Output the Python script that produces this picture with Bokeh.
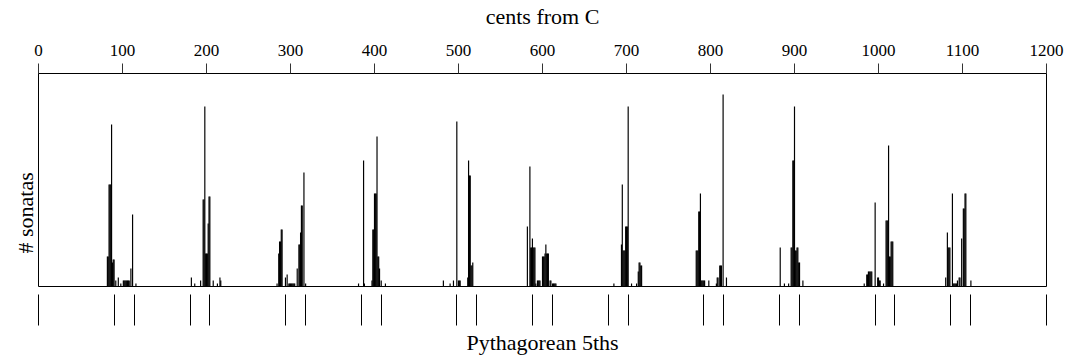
from bokeh.plotting import figure
from bokeh.models import ColumnDataSource, FixedTicker, LinearAxis, Range1d, Title
from bokeh.embed import file_html
from bokeh.resources import INLINE

# ---- data ----
# histogram bins (cents from C) and number of sonatas in each bin
cents = [
    82, 83, 84, 85, 86, 87, 88, 89, 90, 92, 95, 98, 101, 102, 103, 104, 105, 106, 107, 108, 110, 112, 116,
    182, 186, 193, 196, 197, 198, 199, 200, 201, 202, 203, 204, 208, 213, 216, 217,
    284, 286, 287, 288, 289, 290, 294, 296, 298, 299, 300, 301, 302, 303, 304, 305, 308, 310, 311, 312, 313, 314, 316, 318,
    381, 387, 388, 397, 398, 399, 400, 401, 402, 403, 404, 405, 406, 408, 413,
    482, 490, 494, 498, 500, 501, 502, 511, 512, 513, 514, 515, 516, 517,
    582, 585, 586, 587, 588, 589, 590, 591, 592, 594, 595, 596, 597, 600, 601, 602, 603, 604, 605, 606, 607, 609, 610,
    612, 613, 614, 615, 616,
    685, 694, 695, 696, 697, 698, 699, 700, 701, 702, 706, 712, 714, 715, 716, 717, 718,
    783, 784, 785, 786, 787, 788, 789, 790, 791, 792, 793, 798, 807, 808, 809, 811, 812, 813, 815, 819,
    883, 888, 893, 896, 897, 898, 899, 900, 901, 902, 903, 904, 905, 906, 910,
    983, 986, 987, 988, 989, 990, 991, 992, 996, 999, 1000, 1001, 1002, 1006, 1009, 1010, 1011, 1012, 1013, 1014,
    1015, 1016, 1017,
    1080, 1082, 1083, 1084, 1085, 1088, 1089, 1090, 1091, 1092, 1093, 1094, 1096, 1097, 1099, 1101, 1102, 1103, 1104, 1110,
]
sonatas = [
    10, 10, 34, 34, 34, 54, 8, 9, 9, 2, 3, 1, 2, 2, 2, 2, 2, 2, 2, 2, 6, 24, 1,
    3, 1, 2, 29, 29, 60, 11, 11, 11, 21, 30, 30, 2, 1, 3, 2,
    1, 11, 15, 15, 19, 19, 3, 4, 1, 1, 1, 1, 1, 1, 1, 1, 6, 14, 14, 18, 27, 27, 38, 1,
    1, 42, 1, 2, 19, 19, 31, 31, 31, 50, 10, 10, 6, 2, 1,
    2, 1, 2, 55, 2, 2, 2, 3, 42, 37, 37, 7, 7, 8,
    20, 40, 13, 13, 16, 13, 13, 13, 1, 2, 2, 2, 2, 10, 10, 10, 11, 14, 11, 11, 11, 2, 2,
    1, 1, 1, 1, 1,
    1, 14, 34, 12, 12, 12, 20, 20, 20, 60, 1, 1, 5, 8, 8, 7, 7,
    12, 12, 12, 25, 25, 31, 2, 2, 2, 2, 2, 2, 1, 3, 3, 7, 7, 7, 64, 3,
    13, 1, 1, 13, 13, 42, 42, 60, 12, 12, 13, 13, 8, 8, 2,
    1, 4, 4, 5, 5, 5, 5, 5, 28, 3, 3, 2, 2, 1, 22, 22, 22, 47, 10, 10,
    15, 15, 15,
    3, 18, 13, 13, 13, 31, 1, 1, 1, 1, 1, 2, 3, 3, 16, 26, 26, 31, 31, 2,
]
# top axis tick labels
cent_ticks = [0, 100, 200, 300, 400, 500, 600, 700, 800, 900, 1000, 1100, 1200]
# Pythagorean tuning (chain of 5ths) positions in cents
pythagorean = [0, 90.2, 113.7, 180.4, 203.9, 294.1, 317.6, 384.4, 407.8, 498.0, 521.5,
               588.3, 611.7, 678.5, 702.0, 792.2, 815.6, 882.4, 905.9, 996.1, 1019.6,
               1086.3, 1109.8, 1200]

FONT = "Liberation Serif"

src = ColumnDataSource(dict(x=cents, top=sonatas))

p = figure(width=1066, height=360,
           x_range=Range1d(0, 1200), y_range=Range1d(0, 71),
           x_axis_location="above", y_axis_location=None,
           output_backend="svg", toolbar_location=None,
           min_border_left=38, min_border_right=20,
           min_border_top=73, min_border_bottom=74)

p.grid.visible = False
p.outline_line_color = "black"
p.outline_line_width = 1
p.background_fill_color = "white"
p.border_fill_color = "white"

p.vbar(x="x", top="top", bottom=0, width=1.4, source=src,
       fill_color="black", line_color=None)

top = p.above[0]
top.ticker = FixedTicker(ticks=cent_ticks)
top.axis_label = "cents from C"
top.axis_line_color = "black"
top.major_tick_in = 0
top.major_tick_out = 10
top.major_tick_line_color = "#333333"
top.minor_tick_line_color = None
top.major_label_standoff = 8
top.major_label_text_font = FONT
top.major_label_text_font_size = "17px"
top.major_label_text_color = "black"
top.axis_label_standoff = 13
top.axis_label_text_font = FONT
top.axis_label_text_font_size = "22px"
top.axis_label_text_font_style = "normal"
top.axis_label_text_color = "black"

# Pythagorean 5ths drawn as (label-free) minor ticks below the box
bottom = LinearAxis(ticker=FixedTicker(ticks=[], minor_ticks=pythagorean),
                    axis_label="Pythagorean 5ths",
                    axis_line_color=None,
                    major_tick_line_color=None,
                    minor_tick_in=-8, minor_tick_out=39,
                    minor_tick_line_color="black", minor_tick_line_width=1,
                    major_label_standoff=0,
                    axis_label_standoff=4,
                    axis_label_text_font=FONT, axis_label_text_font_size="22px",
                    axis_label_text_font_style="normal", axis_label_text_color="black")
p.add_layout(bottom, "below")

ytitle = Title(text="# sonatas", align="left", offset=33,
               text_font=FONT, text_font_size="22px", text_font_style="normal",
               text_color="black", standoff=2)
p.add_layout(ytitle, "left")

open("out.html", "w").write(file_html(p, INLINE))
